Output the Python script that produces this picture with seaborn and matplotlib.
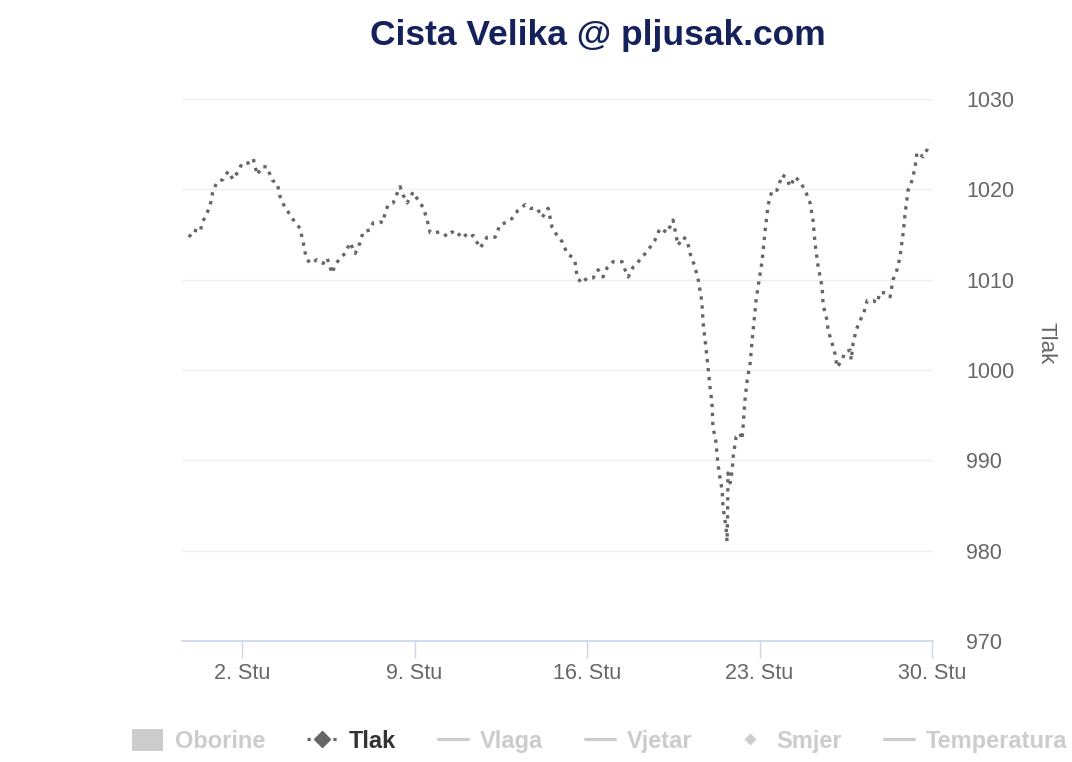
"""
Cista Velika @ pljusak.com - air pressure (Tlak) over November.
"""

import numpy as np
import pandas as pd
import matplotlib
matplotlib.use("Agg")
import matplotlib.pyplot as plt
import matplotlib.dates as mdates
from matplotlib.lines import Line2D
from matplotlib.patches import Patch
from matplotlib.ticker import FuncFormatter
import seaborn as sns

# ============================================================================
# DATA
# ============================================================================
# day of month (fractional, 1.0 = 1 Nov 00:00)
DAY = [
    -0.15, 0.01, 0.30, 0.38, 0.58, 0.70, 0.82, 0.99, 1.23, 1.43, 1.63, 1.84,
    2.00, 2.24, 2.45, 2.61, 2.81, 3.01, 3.22, 3.42, 3.54, 3.75, 3.95, 4.15,
    4.35, 4.48, 4.60, 4.76, 5.04, 5.29, 5.45, 5.65, 5.77, 5.98, 6.18, 6.38,
    6.59, 6.79, 6.91, 7.19, 7.32, 7.60, 7.72, 7.80, 7.93, 8.13, 8.41, 8.53,
    8.70, 8.94, 9.14, 9.35, 9.51, 9.63, 9.83, 10.04, 10.32, 10.52, 10.73,
    10.93, 11.17, 11.38, 11.66, 11.94, 12.27, 12.47, 12.80, 13.00, 13.20,
    13.49, 13.69, 13.97, 14.18, 14.42, 14.58, 14.78, 14.99, 15.19, 15.39,
    15.51, 15.60, 15.80, 16.00, 16.25, 16.45, 16.65, 16.81, 17.06, 17.42,
    17.54, 17.67, 17.87, 18.15, 18.36, 18.56, 18.76, 18.96, 19.25, 19.49,
    19.69, 19.90, 20.06, 20.18, 20.38, 20.51, 20.63, 20.67, 20.71, 20.79,
    20.91, 20.99, 21.07, 21.11, 21.24, 21.28, 21.36, 21.48, 21.52, 21.64,
    21.68, 21.70, 21.72, 21.81, 21.89, 21.93, 22.05, 22.21, 22.29, 22.33,
    22.41, 22.50, 22.62, 22.70, 22.78, 22.86, 22.94, 23.10, 23.23, 23.35,
    23.51, 23.71, 23.92, 24.08, 24.24, 24.44, 24.65, 24.85, 25.05, 25.17,
    25.25, 25.38, 25.54, 25.58, 25.74, 25.78, 25.94, 26.07, 26.15, 26.35,
    26.47, 26.68, 26.72, 26.80, 26.92, 27.08, 27.21, 27.37, 27.61, 27.77,
    27.89, 28.18, 28.30, 28.42, 28.58, 28.70, 28.83, 28.91, 29.03, 29.19,
    29.31, 29.39, 29.64, 29.80, 29.88,
]
# pressure, hPa
TLAK = [
    1014.7, 1015.5, 1015.3, 1016.3, 1017.4, 1018.2, 1019.9, 1020.8, 1021.1,
    1022.0, 1021.1, 1022.0, 1022.9, 1022.9, 1023.4, 1021.6, 1022.5, 1022.5,
    1021.0, 1020.7, 1019.2, 1017.9, 1017.2, 1016.3, 1015.7, 1014.1, 1012.4,
    1011.8, 1012.2, 1011.8, 1012.4, 1010.7, 1011.6, 1012.4, 1012.9, 1014.1,
    1012.9, 1014.1, 1015.3, 1015.5, 1016.3, 1016.4, 1016.3, 1017.4, 1018.3,
    1018.5, 1020.3, 1019.4, 1018.5, 1019.7, 1018.8, 1018.0, 1016.6, 1015.2,
    1015.2, 1015.3, 1014.8, 1015.3, 1014.8, 1015.3, 1014.6, 1014.9, 1013.5,
    1014.7, 1014.7, 1016.1, 1016.4, 1016.9, 1017.7, 1018.3, 1017.9, 1017.9,
    1016.9, 1017.9, 1015.8, 1014.9, 1014.2, 1012.9, 1012.5, 1012.0, 1010.2,
    1009.6, 1010.2, 1010.2, 1011.1, 1010.3, 1011.3, 1012.0, 1012.0, 1011.1,
    1010.3, 1011.4, 1012.2, 1012.9, 1013.6, 1014.4, 1015.7, 1015.2, 1016.6,
    1013.8, 1014.7, 1014.4, 1012.9, 1011.4, 1010.0, 1008.1, 1007.0, 1005.2,
    1003.3, 1000.3, 998.1, 996.3, 993.7, 991.9, 990.4, 988.6, 986.7, 984.8,
    982.6, 981.0, 983.4, 988.6, 987.5, 988.9, 990.4, 992.6, 993.0, 992.3,
    993.7, 996.7, 998.9, 1000.8, 1003.3, 1005.5, 1007.7, 1009.2, 1012.0,
    1015.5, 1018.3, 1019.9, 1019.9, 1021.6, 1021.3, 1020.3, 1021.4, 1020.8,
    1019.9, 1018.5, 1016.6, 1014.1, 1011.4, 1009.2, 1007.2, 1005.5, 1004.4,
    1003.0, 1001.7, 1000.3, 1001.1, 1002.0, 1002.2, 1001.1, 1003.0, 1004.4,
    1005.5, 1006.1, 1007.7, 1007.7, 1007.4, 1008.6, 1008.5, 1008.1, 1010.0,
    1011.1, 1012.5, 1015.2, 1017.4, 1019.9, 1021.0, 1022.4, 1024.1, 1023.6,
    1024.4, 1025.1,
]
TICK_DAYS = [2, 9, 16, 23, 30]
Y_TICKS = [970, 980, 990, 1000, 1010, 1020, 1030]
LEGEND_NAMES = ["Oborine", "Tlak", "Vlaga", "Vjetar", "Smjer", "Temperatura"]
MONTH_ABBR = "Stu"

# ============================================================================
# STYLE
# ============================================================================
FONT = "Liberation Sans"
TITLE_COLOR = "#14215a"
LINE_COLOR = "#666666"
LABEL_COLOR = "#666666"
GRID_COLOR = "#efefef"
AXIS_COLOR = "#ccd6eb"
HIDDEN_COLOR = "#cccccc"

sns.set_theme(style="white")
plt.rcParams["font.family"] = [FONT, "DejaVu Sans"]

# ============================================================================
# BUILD FRAME
# ============================================================================
start = pd.Timestamp("2023-11-01")
df = pd.DataFrame({
    "time": start + pd.to_timedelta(np.array(DAY) - 1, unit="D"),
    "tlak": TLAK,
})

fig = plt.figure(figsize=(10.72, 7.62), dpi=100)
ax = fig.add_axes([182 / 1072, 1 - 641 / 762, (933 - 182) / 1072, (641 - 99) / 762])

dot_style = (0, (1, 1.7))
sns.lineplot(data=df, x="time", y="tlak", ax=ax, color=LINE_COLOR,
             linewidth=2.4, estimator=None, sort=False)
line = ax.get_lines()[0]
line.set_linestyle(dot_style)
line.set_dash_capstyle("butt")

# axes limits
ax.set_xlim(start + pd.Timedelta(days=-1.44), start + pd.Timedelta(days=29.04))
ax.set_ylim(Y_TICKS[0], Y_TICKS[-1])

# x axis
ax.xaxis.set_major_locator(mdates.DayLocator(bymonthday=TICK_DAYS))
ax.xaxis.set_major_formatter(FuncFormatter(
    lambda v, pos: f"{mdates.num2date(v).day}. {MONTH_ABBR}"))
ax.tick_params(axis="x", direction="out", length=12, width=1,
               color=AXIS_COLOR, labelcolor=LABEL_COLOR, labelsize=15.5, pad=4,
               bottom=True)
ax.set_xlabel("")

# y axis on the right
ax.yaxis.tick_right()
ax.set_yticks(Y_TICKS)
ax.tick_params(axis="y", length=0, labelcolor=LABEL_COLOR, labelsize=15.5,
               pad=24, right=False, left=False)
ax.yaxis.set_label_position("right")
ax.set_ylabel("Tlak", rotation=270, color=LABEL_COLOR, fontsize=16,
              va="center", ha="center")
ax.yaxis.set_label_coords((1046 - 182) / 751, (641 - 343) / 542)

ax.grid(axis="y", color=GRID_COLOR, linewidth=1)
ax.grid(axis="x", visible=False)
for side in ["top", "left", "right"]:
    ax.spines[side].set_visible(False)
ax.spines["bottom"].set_color(AXIS_COLOR)
ax.spines["bottom"].set_linewidth(1.2)
ax.set_axisbelow(True)

# title
fig.text(598 / 1072, 1 - 36 / 762, "Cista Velika @ pljusak.com",
         ha="center", va="center", fontsize=25.5, fontweight="bold",
         color=TITLE_COLOR)

# legend (proxy handles)
handles = [
    Patch(facecolor=HIDDEN_COLOR, edgecolor="none"),
    Line2D([], [], color=LINE_COLOR, linewidth=2.3, linestyle=dot_style,
           marker="D", markersize=8, markerfacecolor=LINE_COLOR,
           markeredgecolor=LINE_COLOR),
    Line2D([], [], color=HIDDEN_COLOR, linewidth=2.3),
    Line2D([], [], color=HIDDEN_COLOR, linewidth=2.3),
    Line2D([], [], color=HIDDEN_COLOR, linestyle="none", marker="D",
           markersize=6, markeredgecolor="none"),
    Line2D([], [], color=HIDDEN_COLOR, linewidth=2.3),
]
leg = fig.legend(handles, LEGEND_NAMES, loc="center",
                 bbox_to_anchor=(600 / 1072, 1 - 741 / 762), ncol=6,
                 frameon=False, handlelength=1.3, handleheight=1.05,
                 handletextpad=0.5, columnspacing=1.75,
                 prop={"family": FONT, "weight": "bold", "size": 17})
for txt, name in zip(leg.get_texts(), LEGEND_NAMES):
    txt.set_color("#333333" if name == "Tlak" else HIDDEN_COLOR)

fig.savefig("out.png", dpi=100)
